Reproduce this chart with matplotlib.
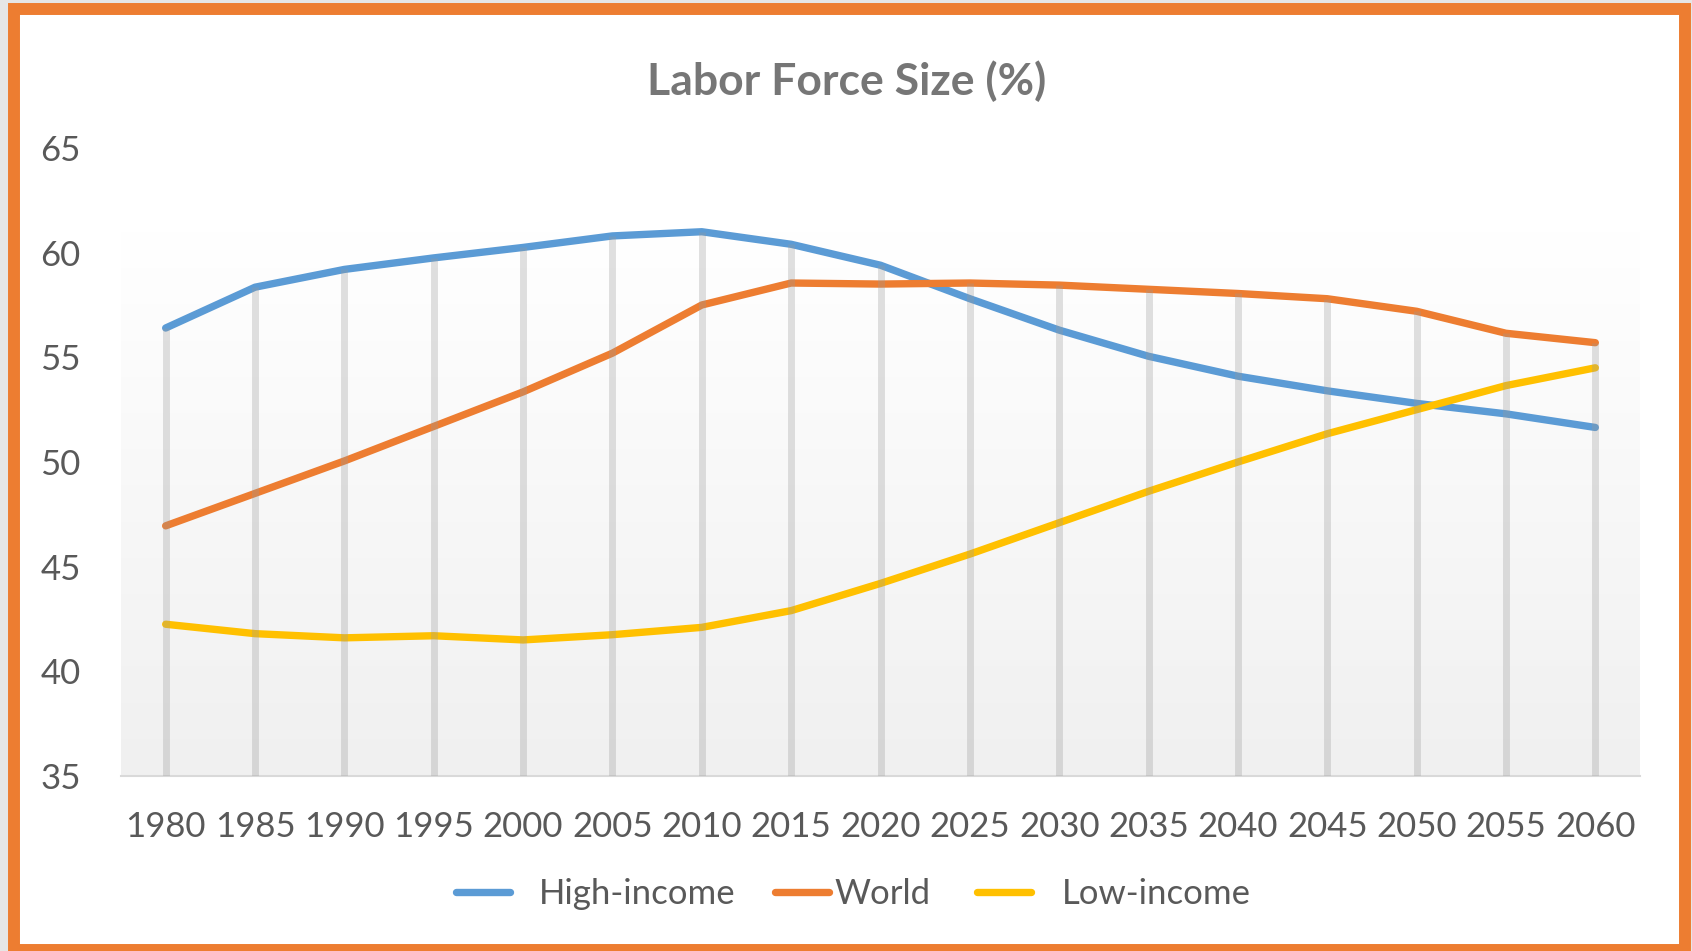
import matplotlib
matplotlib.use("Agg")
import matplotlib.pyplot as plt
from matplotlib.patches import Rectangle
from matplotlib.colors import LinearSegmentedColormap
import numpy as np

years = [1980, 1985, 1990, 1995, 2000, 2005, 2010, 2015, 2020,
         2025, 2030, 2035, 2040, 2045, 2050, 2055, 2060]
high_income = [56.4, 58.35, 59.2, 59.75, 60.25, 60.8, 61.0, 60.4, 59.4,
               57.8, 56.3, 55.05, 54.1, 53.4, 52.8, 52.3, 51.65]
world = [46.95, 48.5, 50.05, 51.7, 53.35, 55.2, 57.5, 58.55, 58.5,
         58.55, 58.45, 58.25, 58.05, 57.8, 57.2, 56.15, 55.7]
low_income = [42.25, 41.8, 41.6, 41.7, 41.5, 41.75, 42.1, 42.9, 44.2,
              45.6, 47.1, 48.6, 50.0, 51.35, 52.5, 53.65, 54.5]
y_ticks = [35, 40, 45, 50, 55, 60, 65]

plt.rcParams['font.family'] = ['Lato', 'DejaVu Sans']
text_col = "#595959"
lw = 5.3

fig = plt.figure(figsize=(16.92, 9.51), dpi=100, facecolor="#e6e6e6")

# white card with orange border
fig.add_artist(Rectangle((14 / 1692, 1 / 951), 1671 / 1692, 941 / 951,
                         transform=fig.transFigure, facecolor="white",
                         edgecolor="#ed7d31", linewidth=8.6, zorder=0))

ax = fig.add_axes([121 / 1692, 175 / 951, 1519 / 1692, 628 / 951])
ax.set_facecolor("none")
ax.set_xlim(1977.5, 2062.5)
ax.set_ylim(35, 65)

# gradient plot area
cmap = LinearSegmentedColormap.from_list("g", ["#f0f0f0", "#ffffff"])
grad = np.linspace(0, 1, 256).reshape(-1, 1)
ax.imshow(grad, extent=[1977.5, 2062.5, 35, 61], origin="lower", cmap=cmap,
          aspect="auto", zorder=0)

l1, = ax.plot(years, high_income, color="#5b9bd5", lw=lw,
              solid_capstyle="round", zorder=2)
l2, = ax.plot(years, world, color="#ed7d31", lw=lw,
              solid_capstyle="round", zorder=2)
l3, = ax.plot(years, low_income, color="#ffc000", lw=lw,
              solid_capstyle="round", zorder=2)

# drop lines
tops = np.max([high_income, world, low_income], axis=0)
ax.vlines(years, 35, tops, color="#999999", alpha=0.3, lw=5, zorder=3)

for s in ["top", "left", "right"]:
    ax.spines[s].set_visible(False)
ax.spines["bottom"].set_color("#d9d9d9")
ax.spines["bottom"].set_linewidth(1.5)

ax.set_xticks(years)
ax.set_xticklabels([str(y) for y in years])
ax.set_yticks(y_ticks)
ax.tick_params(length=0, labelsize=25, labelcolor=text_col)
ax.tick_params(axis="x", pad=25)
ax.tick_params(axis="y", pad=29)

fig.text(847 / 1692, 1 - 81 / 951, "Labor Force Size (%)", ha="center",
         va="center", fontsize=32, fontweight="bold", color="#767676")

# legend entries, spaced like the original
entries = [(l1, "High-income", 456, 0.85), (l2, "World", 775, 0.15),
           (l3, "Low-income", 977, 0.9)]
for handle, name, x0, gap in entries:
    fig.legend([handle], [name], loc="center left",
               bbox_to_anchor=(x0 / 1692, 1 - 894 / 951), frameon=False,
               fontsize=25, labelcolor=text_col, handlelength=1.55,
               handletextpad=gap, borderpad=0, borderaxespad=0)

fig.savefig("out.png", dpi=100, facecolor=fig.get_facecolor())
